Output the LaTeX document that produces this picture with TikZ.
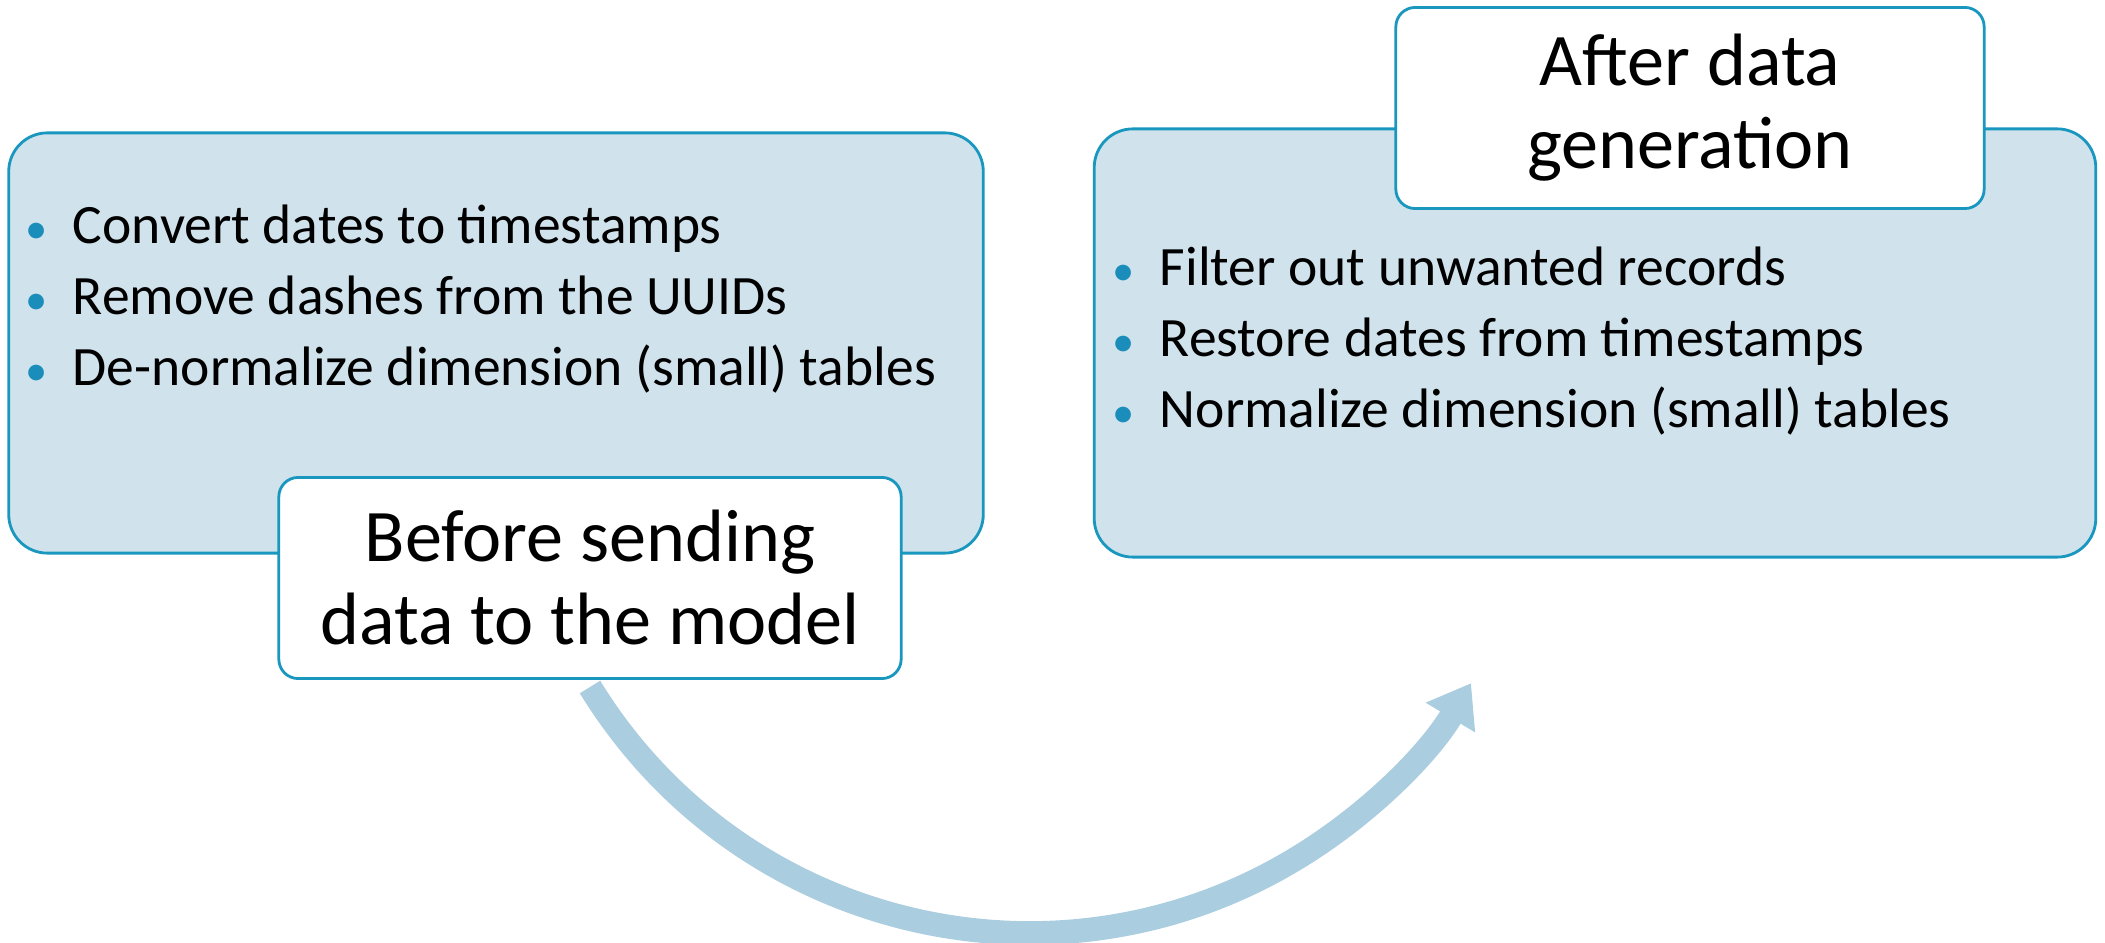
\documentclass[tikz,border=0pt]{standalone}
\usepackage{fontspec}
\setmainfont{Carlito}
\usetikzlibrary{arrows.meta}
\definecolor{boxfill}{HTML}{D0E2EC}
\definecolor{boxline}{HTML}{1A97BF}
\definecolor{bulcol}{HTML}{1A8DBA}
\definecolor{arrowcol}{HTML}{ABCDE0}
\tikzset{
  panel/.style={draw=boxline, fill=boxfill, line width=0.8pt, rounded corners=11pt, inner sep=0pt},
  tag/.style={draw=boxline, fill=white, line width=0.8pt, rounded corners=5.5pt, align=center,
    font=\fontsize{21.1}{23.6}\selectfont, inner sep=0pt},
  bullets/.style={align=left, font=\fontsize{15.8}{20.2}\selectfont, inner sep=0pt, anchor=base west},
  flow/.style={draw=arrowcol, line width=6.8pt, -{Triangle[width=15.6pt,length=11.4pt]}}
}
\newcommand{\bul}{\makebox[13.4pt][l]{\textcolor{bulcol}{\scalebox{0.8}{\textbullet}}}}
\begin{document}
\begin{tikzpicture}[x=0.01cm, y=-0.01cm]
  \useasboundingbox (0,0) rectangle (2105,943);

  % before-stage panel and its list (anchored at the last line's baseline)
  \node[panel, minimum width=9.74cm, minimum height=4.2cm] (lpanel) at (496,343) {};
  \node[bullets] (llist) at (25,386) {\bul Convert dates to timestamps\\
    \bul Remove dashes from the UUIDs\\
    \bul De-normalize dimension (small) tables};

  % after-stage panel and its list
  \node[panel, minimum width=10.01cm, minimum height=4.28cm] (rpanel) at (1595,343) {};
  \node[bullets] (rlist) at (1112,428) {\bul Filter out unwanted records\\
    \bul Restore dates from timestamps\\
    \bul Normalize dimension (small) tables};

  % stage captions
  \node[tag, minimum width=6.22cm, minimum height=2.01cm] (ltag) at (590,578)
    {Before sending\\data to the model};
  \node[tag, minimum width=5.88cm, minimum height=2.01cm] (rtag) at (1690,108)
    {After data\\generation};

  % curved arrow from one stage to the next
  \draw[flow] ([yshift=-2pt]ltag.south) arc[start angle=211.5, end angle=329, radius=5.15cm] coordinate (arrowtip);
\end{tikzpicture}
\end{document}
